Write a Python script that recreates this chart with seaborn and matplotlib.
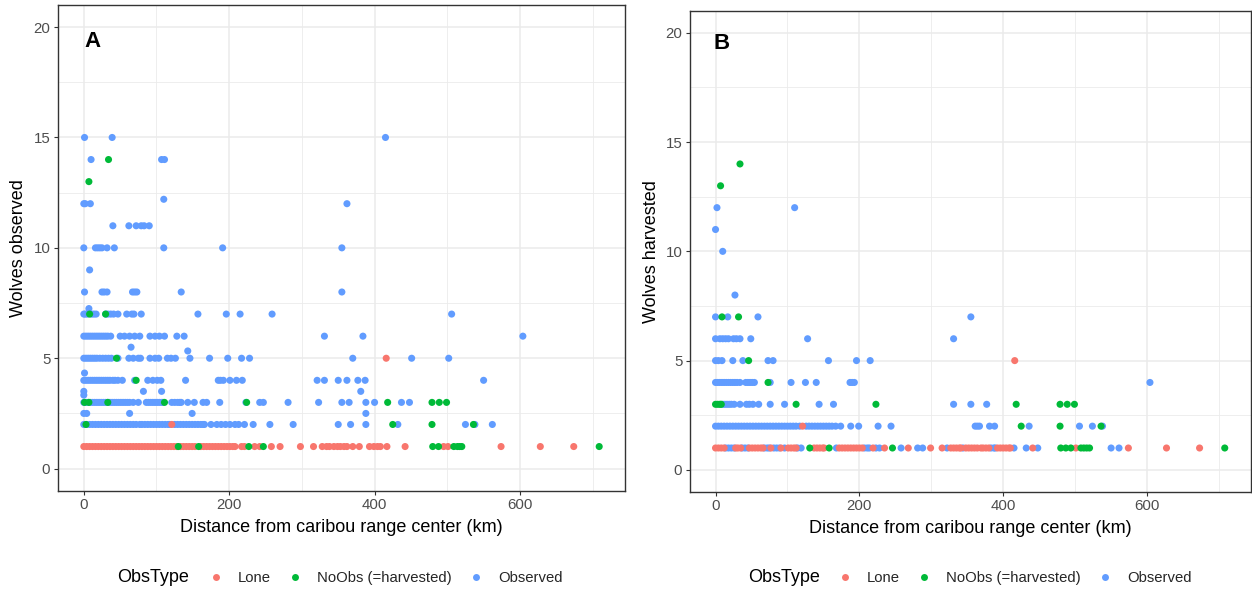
import matplotlib
matplotlib.use("Agg")
import matplotlib.pyplot as plt
import seaborn as sns
import pandas as pd
from matplotlib.lines import Line2D
from matplotlib.ticker import MultipleLocator

# ---------------- data ----------------
obs_types = ["Lone", "NoObs (=harvested)", "Observed"]
palette = ["#F8766D", "#00BA38", "#619CFF"]

# Panel A : Wolves observed
a_obs_levels = [15, 14, 12.2, 12, 11, 10, 9, 8, 7.25, 7, 6, 5.5, 5.33, 5, 4.33, 4,
                3.5, 3.33, 3, 2.5, 2]
a_obs_dist = [
    [1, 39, 415],
    [10, 107, 111],
    [110],
    [0, 2, 9, 362],
    [40, 62, 72, 79, 83, 90],
    [0, 16, 19, 22, 25, 32, 42, 110, 191, 355],
    [8],
    [1, 25, 28, 32, 67, 70, 73, 134, 355],
    [7],
    [0, 2, 5, 11, 14, 17, 30, 33, 37, 41, 47, 59, 66, 69, 79, 157, 196, 215, 259, 506],
    [0, 3, 6, 9, 12, 15, 18, 21, 24, 27, 30, 33, 37, 50, 56, 63, 70, 77, 91, 98, 104,
     111, 128, 138, 331, 384, 604],
    [65],
    [143],
    [0, 3, 6, 9, 12, 15, 18, 22, 26, 30, 34, 38, 47, 62, 68, 75, 78, 91, 98, 103, 115,
     120, 126, 146, 173, 198, 217, 228, 370, 451, 502],
    [1],
    [0, 3, 6, 9, 12, 15, 18, 21, 24, 27, 30, 33, 36, 40, 43, 47, 53, 70, 88, 95, 101,
     106, 140, 185, 188, 192, 201, 210, 218, 321, 331, 350, 362, 377, 387, 550],
    [0, 82, 107, 381],
    [0],
    [0, 3, 6, 9, 12, 15, 18, 21, 24, 27, 30, 33, 36, 39, 42, 45, 48, 51, 54, 57, 60,
     63, 68, 75, 86, 89, 92, 95, 98, 101, 104, 107, 109, 121, 125, 129, 132, 134, 143,
     152, 164, 169, 187, 223, 242, 247, 281, 323, 355, 365, 388, 400, 437, 448],
    [0, 4, 63, 149, 388],
    [0, 4, 8, 12, 16, 20, 24, 28, 32, 36, 40, 44, 48, 52, 56, 60, 64, 68, 72, 77, 80,
     84, 88, 92, 96, 100, 104, 108, 112, 116, 118, 125, 129, 133, 137, 141, 145, 149,
     153, 157, 161, 164, 166, 175, 183, 189, 195, 201, 208, 213, 221, 233, 256, 288,
     350, 367, 388, 432, 525, 538, 562],
]
a_lone_levels = [5, 2, 1]
a_lone_dist = [
    [416],
    [121],
    [0, 4, 8, 12, 16, 20, 24, 28, 32, 36, 40, 44, 48, 52, 56, 60, 64, 68, 72, 76, 80,
     84, 88, 92, 96, 100, 104, 108, 112, 116, 120, 124, 128, 133, 137, 141, 145, 149,
     153, 161, 165, 169, 173, 177, 181, 185, 189, 193, 197, 201, 205, 208, 217, 221,
     235, 242, 258, 270, 298, 316, 328, 334, 338, 344, 349, 353, 358, 362, 370, 379,
     393, 399, 404, 408, 417, 442, 495, 501, 574, 628, 674],
]
a_noobs_levels = [14, 13, 7, 5, 4, 3, 2, 1]
a_noobs_dist = [
    [34],
    [7],
    [8, 30],
    [45],
    [72],
    [1, 7, 33, 111, 224, 418, 479, 489, 499],
    [3, 425, 479, 536],
    [130, 158, 227, 247, 480, 488, 509, 514, 517, 520, 709],
]

# Panel B : Wolves harvested
b_obs_levels = [12, 11, 10, 8, 7, 6, 5, 4, 3, 2, 1]
b_obs_dist = [
    [2, 110],
    [0],
    [10],
    [27],
    [0, 17, 59, 355],
    [0, 6, 10, 14, 18, 25, 29, 34, 49, 128, 331],
    [0, 4, 9, 24, 38, 73, 80, 157, 196, 215],
    [0, 3, 6, 9, 12, 15, 18, 21, 24, 27, 30, 34, 42, 45, 48, 51, 54, 76, 105, 125,
     140, 187, 190, 193, 604],
    [10, 13, 16, 19, 22, 26, 34, 43, 47, 52, 60, 76, 96, 144, 164, 331, 355, 377],
    [0, 4, 8, 12, 16, 20, 24, 28, 32, 36, 40, 44, 48, 52, 56, 60, 64, 68, 72, 76, 80,
     84, 88, 92, 96, 100, 104, 108, 112, 117, 126, 130, 134, 138, 142, 146, 150, 154,
     158, 162, 167, 174, 188, 199, 226, 244, 361, 364, 367, 381, 388, 436, 506, 524,
     538],
    [14, 18, 22, 26, 37, 41, 45, 68, 72, 75, 81, 85, 89, 96, 114, 119, 168, 207, 211,
     214, 223, 228, 258, 281, 288, 322, 344, 383, 387, 389, 415, 432, 448, 550, 561],
]
b_lone_levels = [5, 2, 1]
b_lone_dist = [
    [416],
    [121],
    [0, 4, 8, 12, 28, 31, 35, 47, 51, 55, 59, 63, 66, 77, 91, 101, 105, 109, 112, 137,
     141, 145, 149, 151, 172, 176, 180, 184, 188, 192, 196, 200, 204, 219, 235, 268,
     299, 315, 327, 331, 335, 339, 341, 348, 352, 356, 360, 364, 369, 372, 376, 380,
     392, 396, 400, 404, 408, 410, 441, 501, 574, 627, 673],
]
b_noobs_levels = [14, 13, 7, 5, 4, 3, 2, 1]
b_noobs_dist = [
    [34],
    [7],
    [9, 32],
    [46],
    [73],
    [0, 3, 6, 8, 112, 223, 418, 479, 489, 499],
    [425, 479, 536],
    [131, 158, 246, 480, 487, 494, 508, 512, 516, 520, 708],
]

y_ticks = [0, 5, 10, 15, 20]
x_ticks = [0, 200, 400, 600]
x_label = "Distance from caribou range center (km)"
y_labels = ["Wolves observed", "Wolves harvested"]
panel_tags = ["A", "B"]


def build(groups):
    rows = []
    for kind, levels, dists in groups:
        for lev, xs in zip(levels, dists):
            for x in xs:
                rows.append({"dist": x, "wolves": lev, "ObsType": kind})
    return pd.DataFrame(rows)


df_a = build([("Observed", a_obs_levels, a_obs_dist),
              ("Lone", a_lone_levels, a_lone_dist),
              ("NoObs (=harvested)", a_noobs_levels, a_noobs_dist)])
df_b = build([("Observed", b_obs_levels, b_obs_dist),
              ("Lone", b_lone_levels, b_lone_dist),
              ("NoObs (=harvested)", b_noobs_levels, b_noobs_dist)])

# ---------------- figure ----------------
sns.set_style("white")
plt.rcParams["font.family"] = ["Liberation Sans", "DejaVu Sans"]

W, H = 1252, 596
fig = plt.figure(figsize=(W / 100, H / 100), dpi=100)
fig.patch.set_facecolor("white")

ax_rects = [
    (58 / W, 1 - 490.7 / H, 567 / W, 485.7 / H),
    (690 / W, 1 - 491.7 / H, 561 / W, 480.7 / H),
]
legend_title_x = [117, 748]
legend_anchor_x = [208.5, 837.5]
tag_pos = [(0.06, 0.925), (0.057, 0.933)]

for i, df in enumerate([df_a, df_b]):
    ax = fig.add_axes(ax_rects[i])
    sns.scatterplot(data=df, x="dist", y="wolves", hue="ObsType",
                    hue_order=obs_types, palette=palette, s=26,
                    linewidth=0, alpha=1, legend=False, ax=ax, zorder=3)
    ax.set_xlim(-35.5, 744.5)
    ax.set_ylim(-1, 21)
    ax.set_xticks(x_ticks)
    ax.set_yticks(y_ticks)
    ax.xaxis.set_minor_locator(MultipleLocator(100))
    ax.yaxis.set_minor_locator(MultipleLocator(2.5))
    ax.grid(which="major", color="#EBEBEB", linewidth=1.1, zorder=0)
    ax.grid(which="minor", color="#EBEBEB", linewidth=0.6, zorder=0)
    ax.set_axisbelow(True)
    for sp in ax.spines.values():
        sp.set_color("#333333")
        sp.set_linewidth(1.0)
    ax.tick_params(which="major", length=3, width=0.8, color="#333333",
                   labelsize=10.8, labelcolor="#4D4D4D", pad=2.5,
                   bottom=True, left=True)
    ax.tick_params(which="minor", length=0)
    ax.set_xlabel(x_label, fontsize=13, color="black")
    ax.set_ylabel(y_labels[i], fontsize=13, color="black")
    ax.xaxis.set_label_coords(0.5, -0.058)
    ax.yaxis.set_label_coords(-0.054, 0.5)
    ax.text(tag_pos[i][0], tag_pos[i][1], panel_tags[i], transform=ax.transAxes,
            fontsize=16, fontweight="bold", ha="center", va="center", color="black")

    # legend below each panel, title inline on the left
    fig.text(legend_title_x[i] / W, 1 - 578 / H, "ObsType", fontsize=13,
             ha="left", va="center", color="black")
    handles = [Line2D([], [], marker="o", linestyle="", color=c, markersize=5,
                      markeredgewidth=0) for c in palette]
    fig.legend(handles, obs_types, loc="center left",
               bbox_to_anchor=(legend_anchor_x[i] / W, 1 - 578 / H),
               ncol=3, frameon=False, fontsize=10.7, handlelength=1.0,
               handletextpad=0.98, columnspacing=1.14, borderpad=0,
               borderaxespad=0)

fig.savefig("out.png", dpi=100, facecolor="white")
